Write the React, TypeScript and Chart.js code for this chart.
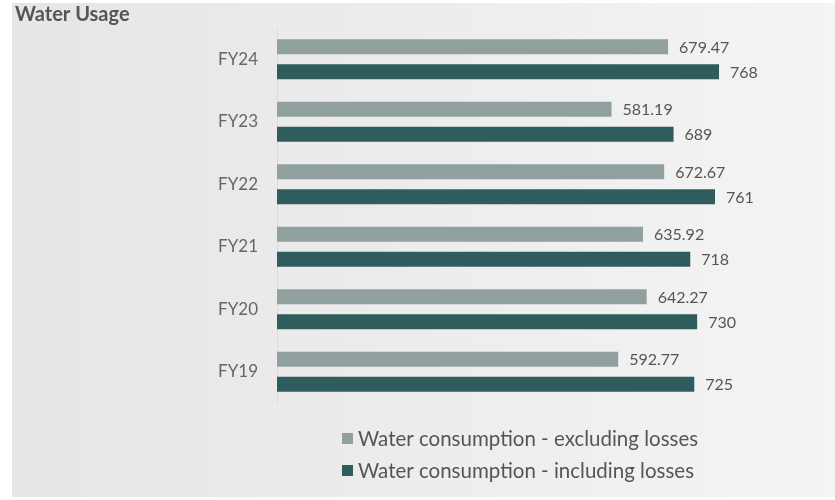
import React, { useEffect, useRef } from "react";
import { Chart, registerables } from "chart.js";

Chart.register(...registerables);

const categories = ["FY24", "FY23", "FY22", "FY21", "FY20", "FY19"];
const excludingLosses = [679.47, 581.19, 672.67, 635.92, 642.27, 592.77];
const includingLosses = [768, 689, 761, 718, 730, 725];
const seriesLabels = [
  "Water consumption - excluding losses",
  "Water consumption - including losses",
];
const seriesColors = ["#8fa09e", "#2f5c5c"];

const FONT = "Lato, 'Noto Sans', sans-serif";

const valueLabelPlugin = {
  id: "valueLabels",
  afterDatasetsDraw(chart: any) {
    const ctx = chart.ctx;
    ctx.save();
    ctx.font = `16px ${FONT}`;
    ctx.fillStyle = "#555555";
    ctx.textAlign = "left";
    ctx.textBaseline = "middle";
    chart.data.datasets.forEach((ds: any, di: number) => {
      const meta = chart.getDatasetMeta(di);
      meta.data.forEach((bar: any, i: number) => {
        ctx.fillText(String(ds.data[i]), bar.x + 11, bar.y + 1);
      });
    });
    ctx.restore();
  },
};

const customLegendPlugin = {
  id: "customLegend",
  afterDraw(chart: any) {
    const ctx = chart.ctx;
    const area = chart.chartArea;
    const left = area.left + 65;
    ctx.save();
    ctx.font = `20.5px ${FONT}`;
    ctx.textAlign = "left";
    ctx.textBaseline = "middle";
    chart.data.datasets.forEach((ds: any, di: number) => {
      const y = area.bottom + 35 + di * 32;
      ctx.fillStyle = ds.backgroundColor;
      ctx.fillRect(left, y - 5, 11, 11);
      ctx.fillStyle = "#555555";
      ctx.fillText(ds.label, left + 16, y + 1);
    });
    ctx.restore();
  },
};

export default function App() {
  const canvasRef = useRef<HTMLCanvasElement | null>(null);

  useEffect(() => {
    document.body.style.margin = "0";
    const canvas = canvasRef.current;
    if (!canvas) return;
    const chart = new Chart(canvas, {
      type: "bar",
      data: {
        labels: categories,
        datasets: [
          {
            label: seriesLabels[0],
            data: excludingLosses,
            backgroundColor: seriesColors[0],
            barPercentage: 0.6,
            categoryPercentage: 0.8,
          },
          {
            label: seriesLabels[1],
            data: includingLosses,
            backgroundColor: seriesColors[1],
            barPercentage: 0.6,
            categoryPercentage: 0.8,
          },
        ],
      },
      options: {
        indexAxis: "y",
        animation: false,
        responsive: false,
        maintainAspectRatio: false,
        layout: { padding: { left: 15, right: 40, top: 0, bottom: 97 } },
        plugins: {
          legend: { display: false },
          tooltip: { enabled: false },
          title: {
            display: true,
            text: "Water Usage",
            align: "start",
            color: "#555555",
            font: { family: FONT, size: 20, weight: "bold", lineHeight: 1.1 },
            padding: { top: 4, bottom: 2 },
          },
        },
        scales: {
          x: {
            display: false,
            min: 0,
            max: 900,
          },
          y: {
            grid: { display: false },
            border: { display: true, color: "#dcdcdc", width: 1 },
            ticks: {
              color: "#666666",
              font: { family: FONT, size: 17 },
              padding: 11,
            },
            afterFit: (scale: any) => {
              scale.width = 262;
            },
          },
        },
      },
      plugins: [valueLabelPlugin, customLegendPlugin],
    });
    return () => chart.destroy();
  }, []);

  return (
    <div style={{ position: "relative", width: 835, height: 500, background: "#ffffff" }}>
      <div
        style={{
          position: "absolute",
          left: 12,
          top: 3,
          width: 823,
          height: 494,
          background: "linear-gradient(to right, #e7e5e5, #f4f4f4)",
        }}
      />
      <canvas
        ref={canvasRef}
        width={835}
        height={500}
        style={{ position: "absolute", left: 0, top: 0 }}
      />
    </div>
  );
}
